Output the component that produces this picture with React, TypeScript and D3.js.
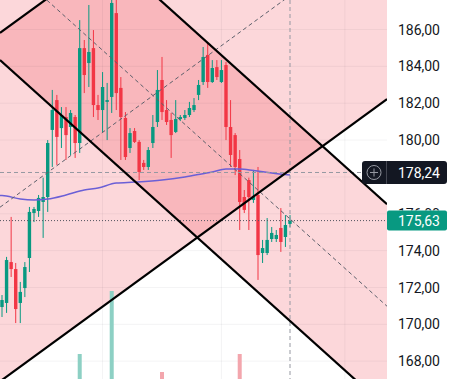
import React from "react";
import * as d3 from "d3";

const WIDTH = 451;
const HEIGHT = 379;
const PLOT_RIGHT = 387;

// OHLC values, one entry per candle
const opens = [170.94,171.16,173.38,173.00,171.16,171.97,173.60,176.04,176.15,176.64,176.91,180.55,182.17,180.65,181.25,180.71,181.25,179.84,184.99,184.18,184.99,181.90,181.63,182.07,182.34,186.89,182.83,181.20,179.57,180.49,179.90,178.76,178.54,179.84,180.98,183.26,181.63,181.09,180.44,181.14,181.20,181.36,181.63,182.45,183.15,184.62,183.15,183.96,183.15,184.07,180.71,180.27,178.97,176.91,177.83,176.75,177.02,173.87,173.87,174.63,174.63,175.23,174.74,175.45];
const highs = [171.59,173.66,175.83,173.33,172.30,173.38,176.37,176.37,177.02,177.96,180.00,182.72,182.45,181.79,181.79,181.63,181.36,186.51,185.43,187.33,185.97,182.45,183.69,183.10,187.70,187.65,183.42,181.52,180.65,180.65,180.00,178.92,179.62,181.36,183.80,184.51,182.17,181.47,182.17,181.36,181.63,182.07,182.28,183.26,185.05,185.27,184.34,184.34,184.34,184.24,182.17,180.38,179.46,177.29,177.96,178.38,178.54,174.58,175.77,175.28,175.12,176.31,175.93,175.93];
const lows = [170.40,170.62,172.57,170.07,170.07,171.48,172.84,175.55,175.83,174.69,176.10,178.54,178.65,179.57,178.92,179.19,179.03,179.30,182.55,182.88,181.25,181.09,180.44,180.00,181.47,181.63,178.92,178.92,179.30,179.84,177.83,178.38,178.38,179.57,180.71,181.09,180.82,179.03,180.38,181.03,181.09,181.25,181.52,182.17,182.99,182.83,183.10,183.26,183.10,180.00,178.54,178.10,175.12,176.04,175.12,176.59,172.41,173.33,173.76,174.47,174.47,173.93,174.20,175.28];
const closes = [171.32,173.49,173.00,170.83,171.76,173.11,176.10,176.26,176.86,176.91,179.84,181.63,180.17,181.36,180.27,181.47,179.84,184.99,183.53,184.78,181.90,181.63,182.88,182.17,187.44,182.55,181.25,179.08,180.38,179.90,178.27,178.54,179.46,180.71,182.72,181.52,180.98,180.27,181.14,181.25,181.36,181.74,181.90,182.99,184.51,183.15,183.91,183.42,183.80,180.71,179.19,178.54,176.64,176.21,176.91,176.91,173.76,174.14,174.58,174.96,174.85,174.47,175.39,175.63];

// Visible volume bars (candle index, volume)
const volumeIndex = [17, 24, 35, 52];
const volumeValues = [46, 109, 28, 46];

// Moving average (candle index, price)
const maIndex = [-0.45, 0, 4, 7, 10, 14, 18, 21, 25, 29, 35, 40, 43, 46, 49, 52, 55, 59, 63];
const maValues = [176.99, 176.99, 176.80, 176.75, 176.80, 177.02, 177.29, 177.40, 177.67, 177.72, 177.83, 178.00, 178.13, 178.27, 178.43, 178.43, 178.35, 178.21, 178.10];

const gridTicks = [168, 170, 172, 174, 176, 178, 180, 182, 184, 186, 188];
// labels visible on the axis (178 is covered by the crosshair label)
const labelTicks = [168, 170, 172, 174, 176, 180, 182, 184, 186];
const timeGridIndex = [22, 48, 75];

// Channel drawings: anchor points (candle index, price)
const descUpper = [[0, 195.32], [80, 177.46]];
const descLower = [[0, 184.25], [80, 166.39]];
const ascUpper = [[0, 185.89], [80, 200.37]];
const ascLower = [[0, 166.98], [80, 181.46]];

const crosshairPrice = 178.24;
const crosshairIndex = 63;
const lastPrice = 175.63;

const UP = "#089981";
const DOWN = "#f23645";
const FONT = "Roboto, 'Noto Sans', sans-serif";

export default function App() {
  const x = d3.scaleLinear().domain([0, 63]).range([2, 290]);
  const y = d3.scaleLinear().domain([168, 186]).range([361.2, 29.5]);
  const vy = d3.scaleLinear().domain([0, 200]).range([400, 200]);
  const fmt = (v: number) => v.toFixed(2).replace(".", ",");

  const lineFn = (pts: number[][]) => {
    const a = [x(pts[0][0]), y(pts[0][1])];
    const b = [x(pts[1][0]), y(pts[1][1])];
    const m = (b[1] - a[1]) / (b[0] - a[0]);
    return (px: number) => a[1] + m * (px - a[0]);
  };
  const midOf = (u: number[][], l: number[][]) => u.map((p, k) => [p[0], (p[1] + l[k][1]) / 2]);

  const dU = lineFn(descUpper), dL = lineFn(descLower), dM = lineFn(midOf(descUpper, descLower));
  const aU = lineFn(ascUpper), aL = lineFn(ascLower), aM = lineFn(midOf(ascUpper, ascLower));

  const poly = (f1: (p: number) => number, f2: (p: number) => number) =>
    `M0,${f1(0)}L${PLOT_RIGHT},${f1(PLOT_RIGHT)}L${PLOT_RIGHT},${f2(PLOT_RIGHT)}L0,${f2(0)}Z`;
  const seg = (f: (p: number) => number) => ({ x1: 0, y1: f(0), x2: PLOT_RIGHT, y2: f(PLOT_RIGHT) });

  const maLine = d3
    .line<number>()
    .x((_, k) => x(maIndex[k]))
    .y((v) => y(v))
    .curve(d3.curveMonotoneX)(maValues) as string;

  const bodyW = 3.4;
  const volW = 4;

  const crossY = y(crosshairPrice);
  const lastY = y(lastPrice);
  const crossX = x(crosshairIndex);

  return (
    <>
      <style>{`body{margin:0;}`}</style>
      <svg width={WIDTH} height={HEIGHT} style={{ position: "absolute", left: 0, top: 0, background: "#fff" }}>
        <defs>
          <clipPath id="plot">
            <rect x={0} y={0} width={PLOT_RIGHT} height={HEIGHT} />
          </clipPath>
          <clipPath id="axisAboveLast">
            <rect x={PLOT_RIGHT} y={0} width={WIDTH - PLOT_RIGHT} height={lastY - 10} />
          </clipPath>
        </defs>
        <g clipPath="url(#plot)">
          {/* channel fills */}
          <path d={poly(dU, dL)} fill={DOWN} fillOpacity={0.2} />
          <path d={poly(aU, aL)} fill={DOWN} fillOpacity={0.2} />
          {/* grid */}
          {gridTicks.map((t) => (
            <line key={"h" + t} x1={0} x2={PLOT_RIGHT} y1={y(t)} y2={y(t)} stroke="#2a2e39" strokeOpacity={0.05} />
          ))}
          {timeGridIndex.map((i) => (
            <line key={"v" + i} x1={x(i)} x2={x(i)} y1={0} y2={HEIGHT} stroke="#2a2e39" strokeOpacity={0.05} />
          ))}
          {/* volume */}
          {volumeIndex.map((i, k) => {
            const up = closes[i] >= opens[i];
            return (
              <rect key={"vol" + i} x={x(i) - volW / 2} y={vy(volumeValues[k])} width={volW}
                height={vy(0) - vy(volumeValues[k])} fill={up ? "#8dd0c4" : "#f3a6ad"} />
            );
          })}
          {/* candles */}
          {opens.map((o, i) => {
            const c = closes[i];
            const up = c >= o;
            const col = up ? UP : DOWN;
            const top = y(Math.max(o, c));
            const bot = y(Math.min(o, c));
            return (
              <g key={"c" + i}>
                <line x1={x(i)} x2={x(i)} y1={y(highs[i])} y2={y(lows[i])} stroke={col} strokeWidth={1} />
                <rect x={x(i) - bodyW / 2} y={top} width={bodyW} height={Math.max(1, bot - top)} fill={col} />
              </g>
            );
          })}
          {/* moving average */}
          <path d={maLine} fill="none" stroke="#6b5fd6" strokeWidth={1.5} />
          {/* crosshair & price line */}
          <line x1={0} x2={362} y1={crossY} y2={crossY} stroke="#9598a1" strokeWidth={1} strokeDasharray="4 3" />
          <line x1={crossX} x2={crossX} y1={0} y2={HEIGHT} stroke="#9598a1" strokeWidth={1} strokeDasharray="4 3" />
          <line x1={0} x2={PLOT_RIGHT} y1={lastY} y2={lastY} stroke="#50535e" strokeWidth={1} strokeDasharray="1 2" />
          {/* channel midlines */}
          <line {...seg(dM)} stroke="#5d606b" strokeWidth={1} strokeDasharray="4 3" />
          <line {...seg(aM)} stroke="#5d606b" strokeWidth={1} strokeDasharray="4 3" />
          {/* channel borders */}
          {[dU, dL, aU, aL].map((f, k) => (
            <line key={"b" + k} {...seg(f)} stroke="#000" strokeWidth={2.2} />
          ))}
        </g>
        {/* price axis */}
        {labelTicks.map((t) => (
          <text key={"t" + t} x={440} y={y(t)} dy="0.36em" textAnchor="end" fontFamily={FONT} fontSize={14} fill="#131722"
            clipPath={t === 176 ? "url(#axisAboveLast)" : undefined}>
            {fmt(t)}
          </text>
        ))}
        {/* crosshair label */}
        <rect x={362} y={crossY - 11.5} width={85} height={23} rx={3} fill="#131722" />
        <line x1={386.5} x2={386.5} y1={crossY - 11.5} y2={crossY + 11.5} stroke="#434651" />
        <circle cx={374} cy={crossY} r={7} fill="none" stroke="#9598a1" strokeWidth={1} />
        <line x1={370} x2={378} y1={crossY} y2={crossY} stroke="#9598a1" />
        <line x1={374} x2={374} y1={crossY - 4} y2={crossY + 4} stroke="#9598a1" />
        <text x={440} y={crossY} dy="0.36em" textAnchor="end" fontFamily={FONT} fontSize={14} fill="#fff">
          {fmt(crosshairPrice)}
        </text>
        {/* last price label */}
        <rect x={387} y={lastY - 10} width={60} height={20} rx={2} fill={UP} />
        <text x={440} y={lastY} dy="0.36em" textAnchor="end" fontFamily={FONT} fontSize={14} fill="#fff">
          {fmt(lastPrice)}
        </text>
      </svg>
    </>
  );
}
